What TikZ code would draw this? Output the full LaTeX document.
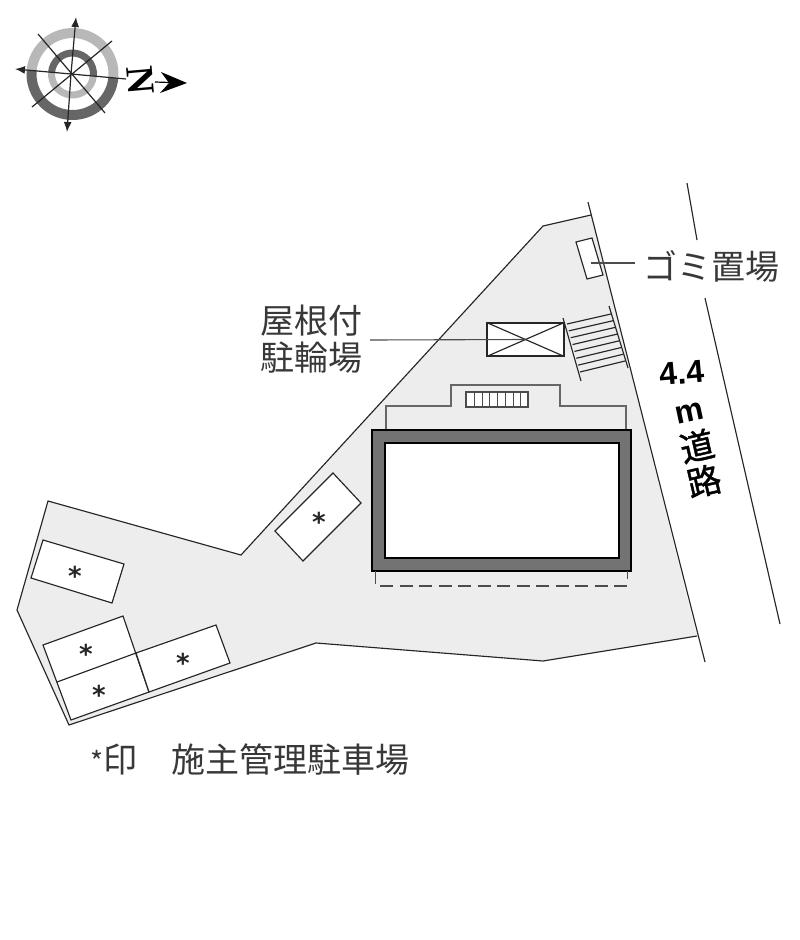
\documentclass[tikz,border=0pt]{standalone}
\usepackage{fontspec}
\newfontfamily\cjk{Noto Sans CJK JP}
\newfontfamily\cjkm[FakeBold=1.2]{Noto Sans CJK JP}
\newfontfamily\starf{DejaVu Sans}
\setmainfont{Liberation Sans}
\usetikzlibrary{arrows.meta}
\tikzset{
 px/.style={x=1pt,y=-1pt},
 ln/.style={draw=black!85,line width=1.15pt},
 slot/.style={ln,fill=white},
 star/.style={font=\starf\bfseries\fontsize{26}{26}\selectfont,inner sep=0pt,text=black!85},
 jp/.style={font=\cjk\fontsize{34}{37}\selectfont,inner sep=0pt,text=black!78},
 road/.style={font=\fontsize{32}{32}\selectfont\bfseries,inner sep=0pt,text=black},
 roadjp/.style={font=\cjkm\fontsize{34}{34}\selectfont,inner sep=0pt,text=black,rotate=13},
 leader/.style={draw=black!70,line width=1.1pt},
 compline/.style={draw=black!85,line width=1.2pt},
 comptip/.style={compline,-{Latex[length=10pt,width=8pt]}},
}
\begin{document}
\begin{tikzpicture}[px]
\useasboundingbox (0,0) rectangle (800,940);
% compass rings
\draw[line width=10pt,draw=black!28] (72.5,74)++(185:41) arc[start angle=185,end angle=365,radius=41];
\draw[line width=10pt,draw=black!60] (72.5,74)++(5:41) arc[start angle=5,end angle=185,radius=41];
\draw[line width=7pt,draw=black!60] (72.5,74)++(185:21) arc[start angle=185,end angle=365,radius=21];
\draw[line width=7pt,draw=black!28] (72.5,74)++(5:21) arc[start angle=5,end angle=185,radius=21];
\coordinate (cc) at (71,74);
\coordinate (cn) at (76,17);
\coordinate (cs) at (67,132);
\coordinate (cw) at (15,69);
\coordinate (ce) at (126,79);
\coordinate (a1) at (38,34);
\coordinate (a2) at (105,113);
\coordinate (b1) at (112,41);
\coordinate (b2) at (32,107);
\draw[comptip] (cc) -- (cn);
\draw[comptip] (cc) -- (cs);
\draw[comptip] (cc) -- (cw);
\draw[compline] (cc) -- (ce);
\draw[compline] (a1) -- (a2);
\draw[compline] (b1) -- (b2);
\node[inner sep=0pt,rotate=-85,font=\fontspec{Liberation Serif}\bfseries\fontsize{39}{39}\selectfont] (zz) at (140.5,80) {N};
\coordinate (z1) at (155,82);
\coordinate (z2) at (187,83);
\draw[line width=1.2pt] (z1) -- (170,82.5);
\fill[black] (z2) -- (161,72) -- (169,83) -- (160,93) -- cycle;
% site
\fill[black!7] (48,501) -- (241,555) -- (543,226) -- (591,215) -- (697,636) -- (543,661) -- (316,643) -- (69,725) -- (17,610) -- cycle;
\draw[ln] (697,636) -- (543,661) -- (316,643) -- (69,725) -- (17,610) -- (48,501) -- (241,555) -- (543,226) -- (591,215);
\coordinate (r1) at (588,202);
\coordinate (r2) at (705,662);
\draw[ln] (r1) -- (r2);
\draw[ln] (687,183) -- (697,240);
\draw[ln] (705,298) -- (780,624);
% gomi box
\draw[slot] (576,242) -- (592,238) -- (603,275) -- (587,279) -- cycle;
\coordinate (gomi) at (591,263);
\coordinate (gomiend) at (635,263);
\draw[leader] (gomi) -- (gomiend);
\node[jp,anchor=west] (gomilab) at (643,266) {ゴミ置場};
% bike
\node[slot,minimum width=77pt,minimum height=33pt,inner sep=0pt] (bike) at (525.5,339.5) {};
\draw[ln] (bike.north west) -- (bike.south east);
\draw[ln] (bike.south west) -- (bike.north east);
\node[jp,align=center] (bikelab) at (311,339) {屋根付\\駐輪場};
\draw[leader] (370,340) -- (bike.center);
% stairs
\draw[ln] (563,318) -- (581,381);
\draw[ln] (609,306) -- (628,368);
\foreach \t in {0,1,...,7}{
 \pgfmathsetmacro{\xa}{567+\t*13/7}
 \pgfmathsetmacro{\ya}{324+\t*48/7}
 \pgfmathsetmacro{\xb}{611+\t*14/7}
 \pgfmathsetmacro{\yb}{314+\t*47/7}
 \draw[ln] (\xa,\ya) -- (\xb,\yb);
}
% bay + vent
\draw[draw=black!60,line width=1.3pt] (386,430) -- (386,406) -- (451,406) -- (451,385) -- (560,385) -- (560,406) -- (626,406) -- (626,430);
\draw[draw=black!70,fill=white,line width=1.1pt] (466,392) rectangle (528,407);
\foreach \x in {474,482,489,497,505,513,520}{\draw[draw=black!70,line width=1pt] (\x,392) -- (\x,407);}
% building
\draw[draw=black,fill=black!55,line width=1.8pt] (372,430) rectangle (631,571);
\draw[draw=black,fill=white,line width=1.8pt] (385,443) rectangle (619,558);
\draw[draw=black!70,line width=1.2pt] (375.5,571) -- (375.5,584);
\draw[draw=black!70,line width=1.2pt] (627.5,571) -- (627.5,579);
\draw[draw=black!70,line width=1.4pt,dash pattern=on 13pt off 6.5pt] (380,586) -- (627,586);
% parking
\draw[slot] (275,531) -- (333,473) -- (361,503) -- (303,561) -- cycle;
\node[star] (s1) at (319,522) {*};
\draw[slot] (43,540) -- (124,564) -- (112,603) -- (31,578) -- cycle;
\node[star] (s2) at (75,576) {*};
\draw[slot] (43,645) -- (123,616) -- (149,692) -- (71,720) -- cycle;
\draw[slot] (136,653) -- (216,625) -- (230,663) -- (149,692) -- cycle;
\draw[ln] (57,682) -- (136,653);
\node[star] (s3) at (86,654) {*};
\node[star] (s4) at (99,695) {*};
\node[star] (s5) at (183,663) {*};
% road label
\node[road,rotate=5] (r44) at (682,373) {4.4};
\node[road,rotate=12] (rm) at (690,413) {m};
\node[roadjp] (rd) at (697,446) {道};
\node[roadjp] (rr) at (704,481) {路};
% legend
\node[jp,anchor=west] (leg1) at (90,760) {{\fontsize{28}{28}\selectfont *}印};
\node[jp,anchor=west] (leg2) at (171,760) {施主管理駐車場};
\end{tikzpicture}
\end{document}
